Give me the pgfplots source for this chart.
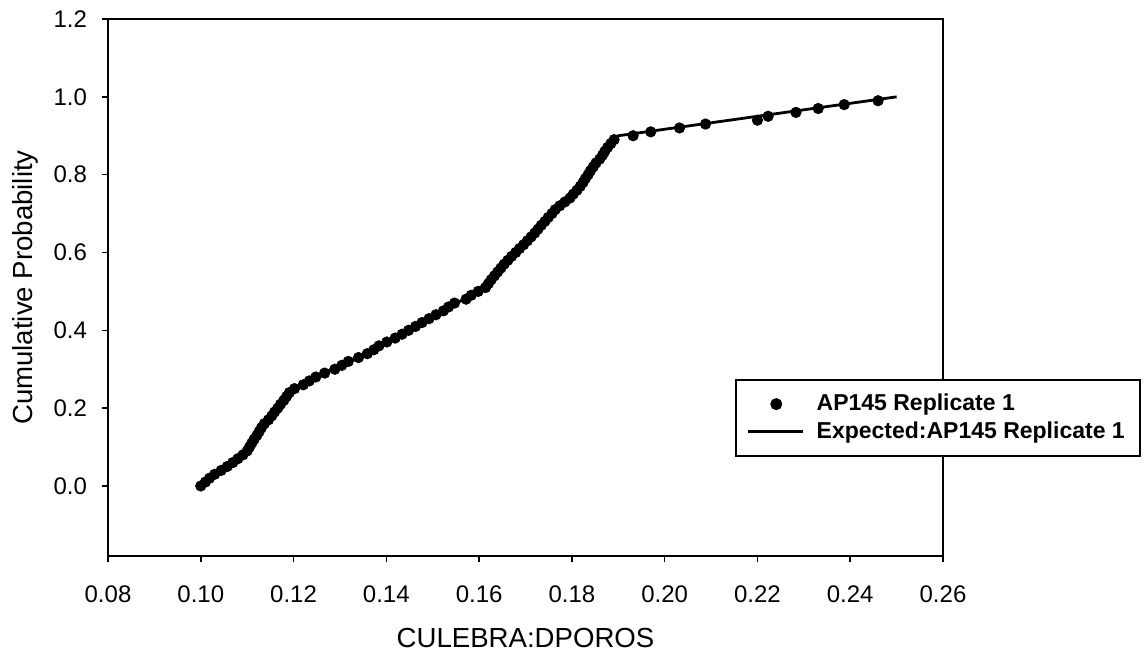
\documentclass[border=0pt]{standalone}
\usepackage{fontspec}
\setmainfont{Liberation Sans}
\usepackage{pgfplots}
\pgfplotsset{compat=1.18}
\pgfplotsset{
  /pgfplots/mklegmark/.style={legend image code/.code={\draw[##1, mark repeat=2, mark phase=2] plot coordinates {(0pt,0pt) (14pt,0pt) (27.5pt,0pt)};}},
  /pgfplots/mkleglinee/.style={legend image code/.code={\draw[##1] (0pt,0pt) -- (27.5pt,0pt);}},
}
\begin{document}
\begin{tikzpicture}
\begin{axis}[
  scale only axis, width=417.5pt, height=268.5pt,
  xmin=0.08, xmax=0.26, ymin=-0.18, ymax=1.2,
  xtick={0.08,0.1,0.12,0.14,0.16,0.18,0.2,0.22,0.24,0.26},
  ytick={0,0.2,0.4,0.6,0.8,1.0,1.2},
  scaled x ticks=false, scaled y ticks=false,
  tick align=outside, major tick length=3pt, tick pos=left,
  axis line style={line width=0.9pt},
  every tick/.style={black, line width=0.8pt},
  /pgf/number format/assume math mode=true,
  tick label style={font=\fontsize{12}{14}\selectfont},
  xticklabel style={/pgf/number format/.cd, fixed, fixed zerofill, precision=2, /tikz/.cd, yshift=-8.5pt},
  yticklabel style={/pgf/number format/.cd, fixed, fixed zerofill, precision=1, /tikz/.cd, xshift=-4pt},
  xlabel={CULEBRA:DPOROS},
  ylabel={Cumulative Probability},
  label style={font=\fontsize{13.8}{16}\selectfont},
  xlabel style={at={([yshift=-41pt]axis description cs:0.5,0)}, anchor=center},
  ylabel style={at={([xshift=-41.5pt]axis description cs:0,0.5)}, anchor=center},
  legend style={at={(rel axis cs:0.751,0.3296)}, anchor=north west, draw=black, line width=0.8pt,
    font=\bfseries\fontsize{11.5}{13.5}\selectfont, inner ysep=5.25pt, inner xsep=5.5pt, row sep=0pt},
  legend cell align=left,
  /tikz/every odd column/.append style={column sep=4pt},
]
\coordinate (bl) at (rel axis cs:0,0);
\coordinate (tr) at (rel axis cs:1,1);
\addplot[only marks, mark=*, mark size=2.6pt, black, mklegmark]
coordinates {
(0.1000,0.00) (0.1010,0.01) (0.1019,0.02) (0.1030,0.03) (0.1044,0.04)
(0.1057,0.05) (0.1069,0.06) (0.1080,0.07) (0.1091,0.08) (0.1100,0.09)
(0.1105,0.10) (0.1110,0.11) (0.1115,0.12) (0.1121,0.13) (0.1126,0.14)
(0.1131,0.15) (0.1137,0.16) (0.1146,0.17) (0.1153,0.18) (0.1159,0.19)
(0.1166,0.20) (0.1172,0.21) (0.1179,0.22) (0.1185,0.23) (0.1191,0.24)
(0.1202,0.25) (0.1221,0.26) (0.1234,0.27) (0.1248,0.28) (0.1267,0.29)
(0.1289,0.30) (0.1304,0.31) (0.1318,0.32) (0.1340,0.33) (0.1359,0.34)
(0.1373,0.35) (0.1384,0.36) (0.1401,0.37) (0.1419,0.38) (0.1434,0.39)
(0.1448,0.40) (0.1463,0.41) (0.1477,0.42) (0.1492,0.43) (0.1507,0.44)
(0.1523,0.45) (0.1534,0.46) (0.1547,0.47) (0.1572,0.48) (0.1583,0.49)
(0.1598,0.50) (0.1614,0.51) (0.1620,0.52) (0.1626,0.53) (0.1633,0.54)
(0.1640,0.55) (0.1647,0.56) (0.1654,0.57) (0.1662,0.58) (0.1670,0.59)
(0.1679,0.60) (0.1687,0.61) (0.1696,0.62) (0.1704,0.63) (0.1712,0.64)
(0.1720,0.65) (0.1727,0.66) (0.1734,0.67) (0.1742,0.68) (0.1749,0.69)
(0.1757,0.70) (0.1764,0.71) (0.1774,0.72) (0.1785,0.73) (0.1796,0.74)
(0.1803,0.75) (0.1811,0.76) (0.1818,0.77) (0.1824,0.78) (0.1829,0.79)
(0.1835,0.80) (0.1840,0.81) (0.1846,0.82) (0.1852,0.83) (0.1860,0.84)
(0.1866,0.85) (0.1871,0.86) (0.1877,0.87) (0.1884,0.88) (0.1891,0.89)
(0.1932,0.90) (0.1970,0.91) (0.2032,0.92) (0.2088,0.93) (0.2200,0.94)
(0.2223,0.95) (0.2283,0.96) (0.2331,0.97) (0.2387,0.98) (0.2460,0.99)
};
\addlegendentry{\makebox[154pt][l]{AP145 Replicate 1}}
\addplot[black, line width=1.4pt, no marks, mkleglinee]
coordinates {
(0.1000,0.000) (0.1063,0.054) (0.1099,0.088) (0.1128,0.144) (0.1174,0.213)
(0.1196,0.245) (0.1253,0.284) (0.1336,0.328) (0.1444,0.397) (0.1526,0.452)
(0.1587,0.494) (0.1634,0.542) (0.1710,0.637) (0.1767,0.714) (0.1839,0.808)
(0.1900,0.900) (0.2500,1.000)
};
\addlegendentry{\makebox[154pt][l]{Expected:AP145 Replicate 1}}
\end{axis}
\pgfresetboundingbox
\path ([xshift=-54pt,yshift=-49.5pt]bl) rectangle ([xshift=101pt,yshift=9.5pt]tr);
\end{tikzpicture}
\end{document}
